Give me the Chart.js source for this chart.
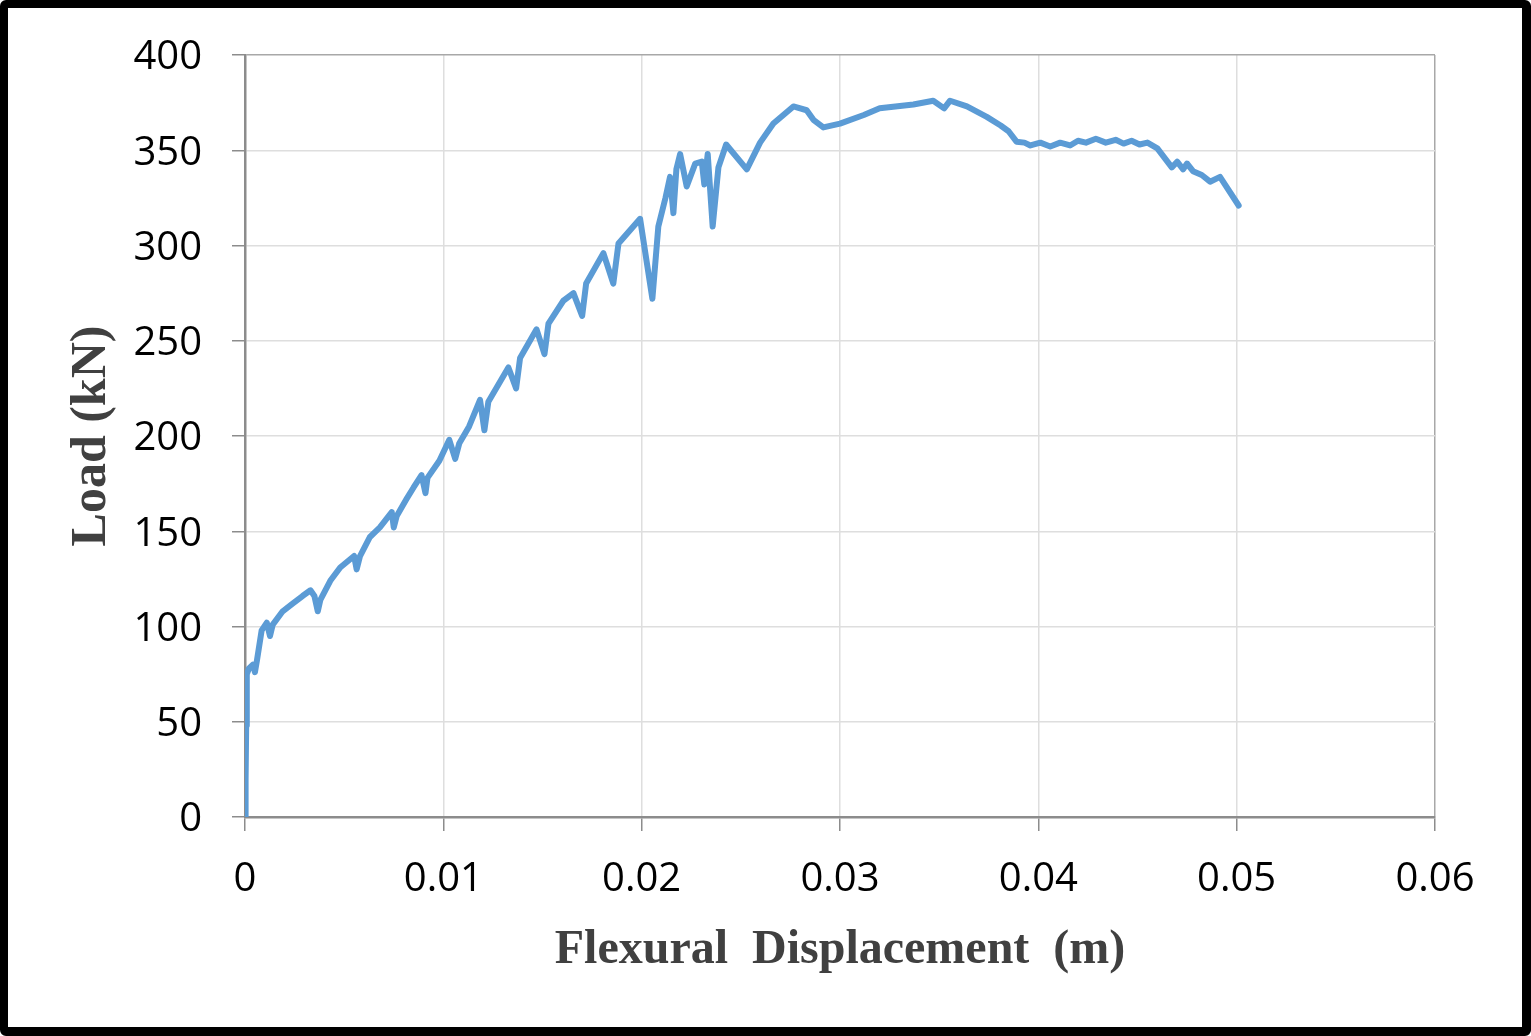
<!DOCTYPE html>
<html>
<head>
<meta charset="utf-8">
<script src="https://cdn.jsdelivr.net/npm/chart.js@4.4.1/dist/chart.umd.min.js"></script>
<style>
  html, body { margin: 0; padding: 0; background: #fff; }
  #wrap { position: relative; width: 1531px; height: 1036px; overflow: hidden; }
  #frame { position: absolute; left: 0; top: 0; width: 1531px; height: 1036px; box-sizing: border-box;
           border-style: solid; border-color: #000; border-width: 8px 9px 9px 8px; border-radius: 6px; pointer-events: none; }
  canvas { position: absolute; left: 0; top: 0; }
</style>
</head>
<body>
<div id="wrap">
  <canvas id="c" width="1531" height="1036"></canvas>
  <div id="frame"></div>
</div>
<script>
// Flexural displacement (m)
const displacement = [
  0, 0.00003, 0.00006, 0.00008, 0.0001, 0.0002, 0.0004, 0.0005, 0.0006, 0.00084,
  0.0011, 0.00126, 0.0014, 0.0019, 0.0024, 0.0029, 0.0033, 0.0035, 0.00367, 0.0038,
  0.0043, 0.0048, 0.0055, 0.00563, 0.0058, 0.0063, 0.0068, 0.0074, 0.0075, 0.00765,
  0.00815, 0.0085, 0.0089, 0.0091, 0.0092, 0.0098, 0.0103, 0.0106, 0.0108, 0.0113,
  0.01185, 0.01207, 0.01227, 0.01328, 0.01367, 0.01387, 0.0147, 0.0151, 0.0153, 0.01605,
  0.01656, 0.0170, 0.0172, 0.01807, 0.01857, 0.01883, 0.01992, 0.02054, 0.02084, 0.0212,
  0.02143, 0.0216, 0.02175, 0.02194, 0.02227, 0.0227, 0.02303, 0.02316, 0.02333, 0.02358,
  0.02387, 0.02426, 0.0253, 0.02597, 0.02664, 0.02765, 0.02832, 0.02866, 0.02916, 0.0300,
  0.0312, 0.0320, 0.0337, 0.0347, 0.03525, 0.03555, 0.0364, 0.0374, 0.0381, 0.0385,
  0.0389, 0.0393, 0.0396, 0.0401, 0.0406, 0.0411, 0.0416, 0.0420, 0.0424, 0.0429,
  0.0434, 0.0439, 0.0443, 0.0447, 0.0451, 0.0455, 0.0460, 0.04673, 0.0470, 0.0473,
  0.0475, 0.0478, 0.04824, 0.04866, 0.04916, 0.0501
];
// Load (kN)
const load = [
  0, 20, 48, 60, 75, 78, 80, 76, 82, 98,
  102, 95, 101, 108, 112, 116, 119, 116, 108, 114,
  124, 131, 137, 130, 137, 147, 152, 160, 152, 158,
  167, 173, 179.5, 170, 178, 187, 198, 188, 196, 205,
  219, 203, 218, 236, 225, 241, 256, 243, 259, 271,
  275, 263, 280, 296, 280, 301, 314, 272, 310, 325,
  336, 317, 340, 348, 331, 343, 344, 332, 348, 310,
  341, 353, 340, 354, 364, 373, 371, 366, 362, 364,
  368.5, 372, 374, 376, 372, 376, 373, 367.5, 363, 360,
  354.5, 354, 352.5, 354, 352, 354, 352.5, 355, 354, 356,
  354, 355.5, 353.5, 355, 353, 354, 351, 341, 344, 340,
  343, 339, 337, 333.5, 336, 321
];
const xTicks = [0, 0.01, 0.02, 0.03, 0.04, 0.05, 0.06];
const yTicks = [0, 50, 100, 150, 200, 250, 300, 350, 400];
const xTitle = 'Flexural  Displacement  (m)';
const yTitle = 'Load (kN)';

const points = displacement.map((d, i) => ({ x: d, y: load[i] }));
const axisColor = '#8c8c8c';
const gridColor = '#dedede';
const edgeColor = '#a8a8a8';

new Chart(document.getElementById('c'), {
  type: 'scatter',
  data: {
    datasets: [{
      data: points,
      showLine: true,
      borderColor: '#5B9BD5',
      backgroundColor: '#5B9BD5',
      borderWidth: 6,
      pointRadius: 0,
      tension: 0,
      borderJoinStyle: 'round',
      borderCapStyle: 'round'
    }]
  },
  options: {
    responsive: false,
    animation: false,
    devicePixelRatio: 1,
    layout: { padding: { left: 0, top: 55, right: 96, bottom: 0 } },
    plugins: { legend: { display: false }, tooltip: { enabled: false } },
    scales: {
      x: {
        type: 'linear',
        min: xTicks[0],
        max: xTicks[xTicks.length - 1],
        afterBuildTicks: s => { s.ticks = xTicks.map(v => ({ value: v })); },
        afterFit: s => { s.height = 219; },
        border: { color: axisColor, width: 2.5 },
        grid: {
          color: c => (c.tick && c.tick.value === 0.06) ? edgeColor : gridColor,
          lineWidth: 1.5,
          tickColor: axisColor,
          tickLength: 14
        },
        ticks: {
          color: '#000',
          font: { family: 'Open Sans', size: 40 },
          padding: 25,
          maxRotation: 0,
          callback: v => String(Number(v.toFixed(2)))
        },
        title: {
          display: true,
          text: xTitle,
          color: '#404040',
          font: { family: 'Liberation Serif', size: 48, weight: 'bold' },
          padding: { top: 0, bottom: 57 }
        }
      },
      y: {
        type: 'linear',
        min: yTicks[0],
        max: yTicks[yTicks.length - 1],
        afterBuildTicks: s => { s.ticks = yTicks.map(v => ({ value: v })); },
        afterFit: s => { s.width = 245; },
        border: { color: axisColor, width: 2.5 },
        grid: {
          color: c => (c.tick && c.tick.value === 400) ? edgeColor : gridColor,
          lineWidth: 1.5,
          tickColor: axisColor,
          tickLength: 13
        },
        ticks: {
          color: '#000',
          font: { family: 'Open Sans', size: 40 },
          padding: 30,
          labelOffset: 3
        },
        title: {
          display: true,
          text: yTitle,
          color: '#404040',
          font: { family: 'Liberation Serif', size: 50, weight: 'bold' },
          padding: { top: 62, bottom: 0 }
        }
      }
    }
  }
});
</script>
</body>
</html>
